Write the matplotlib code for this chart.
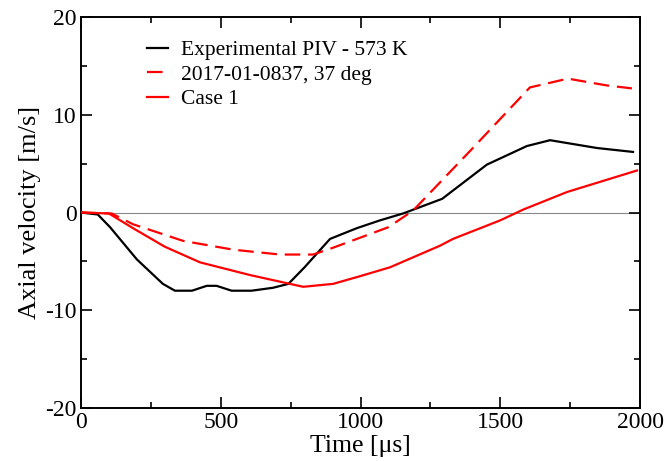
import matplotlib
matplotlib.use("Agg")
import matplotlib.pyplot as plt

# Experimental PIV - 573 K
t_exp = [0, 60, 104, 200, 293, 336, 397, 450, 485, 539, 610, 687, 742, 800, 891, 987, 1070, 1152, 1292, 1452, 1595, 1678, 1846, 1975]
v_exp = [0.0, -0.2, -1.5, -4.8, -7.3, -8.0, -8.0, -7.5, -7.5, -8.0, -8.0, -7.7, -7.3, -5.6, -2.7, -1.6, -0.8, -0.1, 1.4, 4.9, 6.8, 7.4, 6.6, 6.2]

# 2017-01-0837, 37 deg
t_sim = [0, 110, 186, 365, 544, 712, 830, 902, 987, 1100, 1188, 1392, 1606, 1742, 1882, 1971]
v_sim = [0.0, -0.1, -1.2, -2.9, -3.8, -4.3, -4.3, -3.6, -2.7, -1.5, 0.2, 6.3, 12.8, 13.7, 13.0, 12.7]

# Case 1
t_case = [0, 100, 186, 300, 426, 605, 795, 902, 1000, 1106, 1284, 1331, 1500, 1582, 1739, 1989]
v_case = [0.0, -0.1, -1.6, -3.5, -5.1, -6.4, -7.6, -7.3, -6.5, -5.6, -3.4, -2.7, -0.8, 0.3, 2.1, 4.3]

plt.rcParams['font.family'] = ['Liberation Serif', 'DejaVu Serif']
plt.rcParams['axes.unicode_minus'] = False

fig = plt.figure(figsize=(6.66, 4.61), dpi=100)
ax = fig.add_axes([0.1216, 0.115, 0.8394, 0.848])

ax.axhline(0, color='#888888', lw=0.8, zorder=1)
ax.plot(t_exp, v_exp, color='black', lw=1.6, label='Experimental PIV - 573 K', zorder=3)
ax.plot(t_sim, v_sim, color='red', lw=1.6, dashes=(7, 3.5), label='2017-01-0837, 37 deg', zorder=3)
ax.plot(t_case, v_case, color='red', lw=1.6, label='Case 1', zorder=3)

ax.set_xlim(0, 2000)
ax.set_ylim(-20, 20)
ax.set_xticks([0, 500, 1000, 1500, 2000])
ax.set_xticks([250, 750, 1250, 1750], minor=True)
ax.set_yticks([-20, -10, 0, 10, 20])
ax.set_yticks([-15, -5, 5, 15], minor=True)
ax.tick_params(which='both', direction='in', top=True, right=True, width=1.2, labelsize=17, pad=3)
ax.tick_params(which='major', length=8)
ax.tick_params(which='minor', length=4.5)
for s in ax.spines.values():
    s.set_linewidth(1.4)

ax.set_xlabel('Time [\u03bcs]', fontsize=18.5, labelpad=1)
ax.set_ylabel('Axial velocity [m/s]', fontsize=19, labelpad=3)

leg = ax.legend(loc='upper left', bbox_to_anchor=(0.084, 0.99), frameon=False, fontsize=15.5,
                handlelength=0.95, handletextpad=0.6, labelspacing=0.2)

fig.savefig('out.png', dpi=100)
